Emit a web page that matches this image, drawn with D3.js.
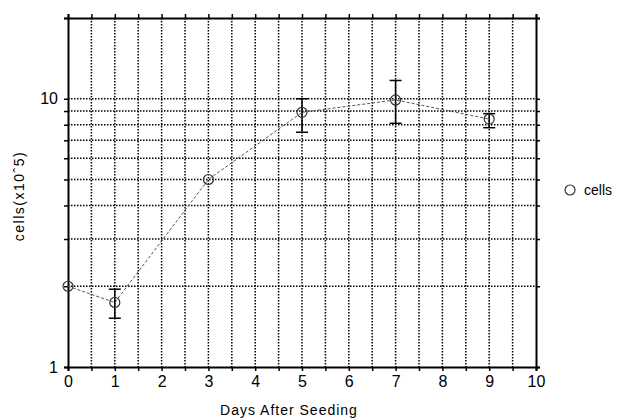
<!DOCTYPE html>
<html>
<head>
<meta charset="utf-8">
<script src="https://cdn.jsdelivr.net/npm/d3@7"></script>
<style>
  body { margin: 0; background: #fff; }
  text { font-family: "Liberation Sans", Arial, sans-serif; fill: #000; }
</style>
</head>
<body>
<div id="chart"></div>
<script>
// DATA
const days = [0, 1, 3, 5, 7, 9];
const cells = [2.0, 1.74, 5.0, 8.9, 9.9, 8.4];
const errLow = [2.0, 1.52, 5.0, 7.5, 8.1, 7.8];
const errHigh = [2.0, 1.95, 5.0, 10.0, 11.7, 8.8];
const xTickLabels = [0, 1, 2, 3, 4, 5, 6, 7, 8, 9, 10];
const xGridValues = d3.range(0.5, 10, 0.5);
const yTickLabels = [1, 10];
const yGridValues = [2, 3, 4, 5, 6, 7, 8, 9, 10];
const seriesName = "cells";

const WIDTH = 619, HEIGHT = 418;
const MARGIN = { LEFT: 68, RIGHT: 83, TOP: 18, BOTTOM: 51 };
const innerW = WIDTH - MARGIN.LEFT - MARGIN.RIGHT;
const innerH = HEIGHT - MARGIN.TOP - MARGIN.BOTTOM;

const svg = d3.select("#chart")
  .append("svg")
  .attr("width", WIDTH)
  .attr("height", HEIGHT);

const g = svg.append("g")
  .attr("transform", `translate(${MARGIN.LEFT}, ${MARGIN.TOP})`);

const x = d3.scaleLinear().domain([0, 10]).range([0, innerW]);
const y = d3.scaleLog().domain([1, 20]).range([innerH, 0]);

// GRID
g.append("g")
  .selectAll("line")
  .data(xGridValues)
  .enter()
  .append("line")
  .attr("x1", (d) => x(d)).attr("x2", (d) => x(d))
  .attr("y1", 0).attr("y2", innerH)
  .attr("stroke", "#000")
  .attr("stroke-width", 1.5)
  .attr("stroke-dasharray", "1.5,1.5");

g.append("g")
  .selectAll("line")
  .data(yGridValues)
  .enter()
  .append("line")
  .attr("x1", 0).attr("x2", innerW)
  .attr("y1", (d) => y(d)).attr("y2", (d) => y(d))
  .attr("stroke", "#000")
  .attr("stroke-width", 1.5)
  .attr("stroke-dasharray", "1.5,1.5");

// AXES
const xBottom = g.append("g")
  .attr("transform", `translate(0, ${innerH})`)
  .call(d3.axisBottom(x).tickValues(d3.range(0, 10.5, 0.5)).tickSize(4).tickPadding(5)
    .tickFormat((d) => (xTickLabels.includes(d) ? d : "")));
const xTop = g.append("g")
  .call(d3.axisTop(x).tickValues(d3.range(0, 10.5, 0.5)).tickSize(4).tickFormat(""));
const yLeft = g.append("g")
  .call(d3.axisLeft(y).tickValues(yGridValues.concat([1, 20])).tickSize(4).tickPadding(6)
    .tickFormat((d) => (yTickLabels.includes(d) ? d : "")));
const yRight = g.append("g")
  .attr("transform", `translate(${innerW}, 0)`)
  .call(d3.axisRight(y).tickValues(yGridValues.concat([1, 20])).tickSize(4).tickFormat(""));

[xBottom, xTop, yLeft, yRight].forEach((a) => {
  a.select(".domain").attr("stroke-width", 2);
  a.selectAll(".tick line").attr("stroke-width", 1.5);
  a.selectAll(".tick text").attr("font-size", "16px");
});

// LINE
const pts = days.map((d, i) => ({ day: d, v: cells[i], lo: errLow[i], hi: errHigh[i] }));
g.append("path")
  .datum(pts)
  .attr("fill", "none")
  .attr("stroke", "#555")
  .attr("stroke-width", 1)
  .attr("stroke-dasharray", "3,2")
  .attr("d", d3.line().x((d) => x(d.day)).y((d) => y(d.v)));

// ERROR BARS
const eb = g.append("g").selectAll("g")
  .data(pts.filter((d) => d.hi > d.lo))
  .enter()
  .append("g")
  .attr("stroke", "#000")
  .attr("stroke-width", 1.5);
eb.append("line")
  .attr("x1", (d) => x(d.day)).attr("x2", (d) => x(d.day))
  .attr("y1", (d) => y(d.lo)).attr("y2", (d) => y(d.hi));
eb.append("line")
  .attr("x1", (d) => x(d.day) - 6).attr("x2", (d) => x(d.day) + 6)
  .attr("y1", (d) => y(d.hi)).attr("y2", (d) => y(d.hi));
eb.append("line")
  .attr("x1", (d) => x(d.day) - 6).attr("x2", (d) => x(d.day) + 6)
  .attr("y1", (d) => y(d.lo)).attr("y2", (d) => y(d.lo));

// MARKERS
g.append("g").selectAll("circle")
  .data(pts)
  .enter()
  .append("circle")
  .attr("cx", (d) => x(d.day))
  .attr("cy", (d) => y(d.v))
  .attr("r", 5)
  .attr("fill", "none")
  .attr("stroke", "#333")
  .attr("stroke-width", 1.2);

// LABELS
svg.append("text")
  .attr("x", 289)
  .attr("y", 415)
  .attr("text-anchor", "middle")
  .attr("font-size", "14px")
  .attr("letter-spacing", "1px")
  .text("Days After Seeding");

svg.append("text")
  .attr("transform", `translate(24, 196) rotate(-90)`)
  .attr("text-anchor", "middle")
  .attr("font-size", "14px")
  .attr("letter-spacing", "1.5px")
  .text("cells(x10ˆ5)");

// LEGEND
svg.append("circle")
  .attr("cx", 570).attr("cy", 190).attr("r", 5)
  .attr("fill", "none").attr("stroke", "#333").attr("stroke-width", 1.2);
svg.append("text")
  .attr("x", 584).attr("y", 195)
  .attr("font-size", "14px")
  .text(seriesName);
</script>
</body>
</html>
